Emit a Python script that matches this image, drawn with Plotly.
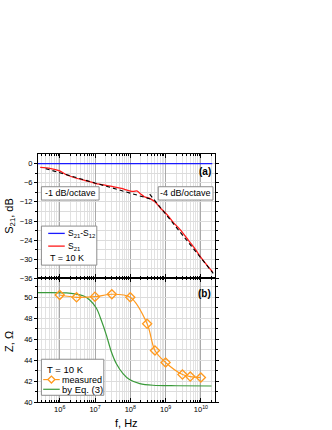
import plotly.graph_objects as go

# ---------------- data ----------------
# panel (a): transmission
s21_freq = [2.8e5, 5.2e5, 1.0e6, 1.55e6, 2.95e6, 5.6e6, 1.0e7, 1.8e7, 3.2e7,
            5.6e7, 1.0e8, 1.26e8, 1.58e8, 2.0e8, 2.5e8, 3.6e8, 5.0e8, 7.1e8,
            1.12e9, 1.58e9, 2.63e9, 4.0e9, 6.3e9, 1.05e10, 1.58e10, 2.14e10]
s21_db = [-1.2, -1.5, -2.3, -3.5, -4.6, -5.4, -6.2, -6.7, -7.2,
          -7.8, -8.6, -8.7, -8.6, -9.6, -10.4, -11.0, -12.0, -13.9,
          -16.1, -18.2, -20.8, -23.4, -26.2, -29.7, -32.2, -33.9]
iso_freq = [2.4e5, 2.1e10]
iso_db = [0.0, 0.0]
fit1_freq = [4.0e5, 4.0e8]
fit1_db = [-1.6, -11.2]
fit2_freq = [3.55e8, 2.24e10]
fit2_db = [-9.6, -34.4]

# panel (b): impedance
meas_freq = [1e6, 3e6, 1e7, 3e7, 1e8, 3e8, 5e8, 1e9, 3e9, 5e9, 1e10]
meas_z = [50.22, 50.0, 50.06, 50.29, 50.0, 47.47, 44.92, 43.77, 42.62, 42.43, 42.34]
eq_freq = [2.4e5, 1.55e6, 2.95e6, 4.6e6, 7.1e6, 1.1e7, 1.5e7, 2.1e7, 2.9e7,
           4.0e7, 6.2e7, 9.5e7, 1.86e8, 4.4e8, 2.0e9, 2.0e10]
eq_z = [50.44, 50.42, 50.3, 50.15, 49.74, 48.95, 47.83, 46.39, 44.8,
        43.68, 42.72, 42.15, 41.76, 41.6, 41.55, 41.53]

xtick_vals = [1e6, 1e7, 1e8, 1e9, 1e10]
xtick_text = ["10<sup>6</sup>", "10<sup>7</sup>", "10<sup>8</sup>", "10<sup>9</sup>", "10<sup>10</sup>"]
x_minor = [k * 10 ** n for n in range(5, 11) for k in range(2, 10)]
ya_ticks = [0, -6, -12, -18, -24, -30, -36]
ya_minor = [-3, -9, -15, -21, -27, -33]
yb_ticks = [40, 42, 44, 46, 48, 50]
yb_minor = [41, 43, 45, 47, 49, 51]

# ---------------- colours / fonts ----------------
BLUE = "#1a1aff"
RED = "#ff1a1a"
ORANGE = "#ff9a1f"
GREEN = "#3a9a3a"
FONT = "Liberation Sans, Arial, sans-serif"

W, H = 332, 430
L, R, T, B = 38.3, 117, 154, 28.3
PW, PH = W - L - R, H - T - B
Y_BOT = H - B


def px(x):
    return (x - L) / PW


def py(y):
    return (Y_BOT - y) / PH


split = (Y_BOT - 278.3) / PH

fig = go.Figure()

fig.add_trace(go.Scatter(x=iso_freq, y=iso_db, mode="lines", line=dict(color=BLUE, width=1.3),
                         xaxis="x2", yaxis="y2", name="S21-S12", showlegend=False))
fig.add_trace(go.Scatter(x=s21_freq, y=s21_db, mode="lines", line=dict(color=RED, width=1.3, shape="spline", smoothing=0.6),
                         xaxis="x2", yaxis="y2", name="S21", showlegend=False))
fig.add_trace(go.Scatter(x=fit1_freq, y=fit1_db, mode="lines", line=dict(color="black", width=1.1, dash="4px,3px"),
                         xaxis="x2", yaxis="y2", showlegend=False))
fig.add_trace(go.Scatter(x=fit2_freq, y=fit2_db, mode="lines", line=dict(color="black", width=1.1, dash="4px,3px"),
                         xaxis="x2", yaxis="y2", showlegend=False))

fig.add_trace(go.Scatter(x=eq_freq, y=eq_z, mode="lines", line=dict(color=GREEN, width=1.2, shape="spline", smoothing=0.8),
                         xaxis="x", yaxis="y", name="by Eq. (3)", showlegend=False))
fig.add_trace(go.Scatter(x=meas_freq, y=meas_z, mode="lines+markers",
                         line=dict(color=ORANGE, width=1.2, shape="spline", smoothing=0.9),
                         marker=dict(symbol="diamond-open", size=7, color=ORANGE, line=dict(width=1.3, color=ORANGE)),
                         xaxis="x", yaxis="y", name="measured", showlegend=False))

xcommon = dict(type="log", range=[5.385, 10.40], showline=True, linecolor="black", linewidth=1,
               mirror="allticks", ticks="inside", ticklen=4, tickcolor="black",
               tickvals=xtick_vals, showgrid=True, gridcolor="#a9a9a9", gridwidth=1,
               minor=dict(tickvals=x_minor, ticks="inside", ticklen=2, tickcolor="black",
                          showgrid=True, gridcolor="#e2e2e2", gridwidth=1),
               zeroline=False, tickfont=dict(family=FONT, size=7.5, color="black"))

fig.update_layout(
    width=W, height=H, margin=dict(l=L, r=R, t=T, b=B, autoexpand=False),
    paper_bgcolor="white", plot_bgcolor="white", showlegend=False,
    font=dict(family=FONT, size=9, color="black"),
    xaxis=dict(**xcommon, anchor="y", ticktext=xtick_text, showticklabels=True),
    xaxis2=dict(**xcommon, anchor="y2", matches="x", showticklabels=False),
    yaxis=dict(domain=[0, split], range=[40, 51.8], showline=True, linecolor="black", linewidth=1,
               mirror="allticks", ticks="outside", ticklen=3, tickcolor="black",
               tickvals=yb_ticks, showgrid=True, gridcolor="#dcdcdc", zeroline=False,
               minor=dict(tickvals=yb_minor, ticks="outside", ticklen=2, tickcolor="black",
                          showgrid=True, gridcolor="#dcdcdc"),
               tickfont=dict(family=FONT, size=7.5, color="black")),
    yaxis2=dict(domain=[split, 1], range=[-36, 3], showline=True, linecolor="black", linewidth=1,
                mirror="allticks", ticks="outside", ticklen=3, tickcolor="black",
                tickvals=ya_ticks, showgrid=True, gridcolor="#dcdcdc", zeroline=False,
                minor=dict(tickvals=ya_minor, ticks="outside", ticklen=2, tickcolor="black",
                           showgrid=True, gridcolor="#dcdcdc"),
                tickfont=dict(family=FONT, size=7.5, color="black")),
)

shapes = []
ann = []


def box(x0, y0, x1, y1):
    shapes.append(dict(type="rect", xref="paper", yref="paper", x0=px(x0), x1=px(x1), y0=py(y1), y1=py(y0),
                       line=dict(color="#8c8c8c", width=1), fillcolor="white", layer="above"))


def hline(x0, x1, y, color, width=1.3):
    shapes.append(dict(type="line", xref="paper", yref="paper", x0=px(x0), x1=px(x1), y0=py(y), y1=py(y),
                       line=dict(color=color, width=width), layer="above"))


def text(x, y, s, size=9, xanchor="left", bold=False, angle=0):
    if bold:
        s = "<b>" + s + "</b>"
    ann.append(dict(xref="paper", yref="paper", x=px(x), y=py(y), text=s, showarrow=False,
                    xanchor=xanchor, yanchor="middle", textangle=angle,
                    font=dict(family=FONT, size=size, color="black")))


# slope boxes
box(41.7, 186.7, 99.3, 200)
text(70.5, 193.4, "-1 dB/octave", size=9, xanchor="center")
box(158.3, 186.7, 213, 200)
text(185.6, 193.4, "-4 dB/octave", size=9, xanchor="center")

# panel labels
text(213, 171, "(a)", size=10, xanchor="right", bold=True)
text(213, 293.5, "(b)", size=10, xanchor="right", bold=True)

# legend (a)
box(41.7, 226, 97, 265)
hline(48.5, 65, 233.3, BLUE)
text(66, 233.3, "S<sub>21</sub>-S<sub>12</sub>", size=8.5)
hline(48.5, 65, 246, RED)
text(66, 246, "S<sub>21</sub>", size=8.5)
text(48.5, 258.3, "T = 10 K", size=9)

# legend (b)
box(41.7, 359, 104, 395)
text(45, 369.3, "T = 10 K", size=9.5)
hline(43.5, 60, 379.3, ORANGE, 1.2)
shapes.append(dict(type="path", xref="paper", yref="paper", xsizemode="pixel", ysizemode="pixel",
                   xanchor=px(51.7), yanchor=py(379.3), path="M -3.5 0 L 0 3.5 L 3.5 0 L 0 -3.5 Z",
                   line=dict(color=ORANGE, width=1.3), fillcolor="white", layer="above"))
text(60.5, 379.3, "measured", size=9)
hline(43.5, 60, 389, GREEN, 1.2)
text(60.5, 389, "by Eq. (3)", size=9.5)

# axis titles
text(10, 216, "S<sub>21</sub>, dB", size=11, xanchor="center", angle=-90)
text(10, 341, "Z, Ω", size=11, xanchor="center", angle=-90)
text(126.5, 423, "f, Hz", size=11, xanchor="center")

fig.update_layout(shapes=shapes, annotations=ann)
fig.write_html("out.html", config={"displayModeBar": False},
               post_script="document.body.style.margin='0px';")
